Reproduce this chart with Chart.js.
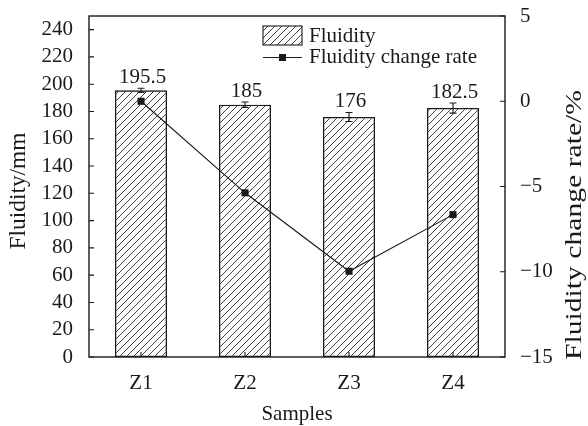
<!DOCTYPE html>
<html><head><meta charset="utf-8">
<script src="https://cdn.jsdelivr.net/npm/chart.js@4/dist/chart.umd.min.js"></script>
<style>html,body{margin:0;padding:0;background:#fff}canvas{display:block}</style>
</head><body>
<canvas id="c" width="588" height="426"></canvas>
<script>
const categories = ['Z1','Z2','Z3','Z4'];
const fluidity = [195.5, 185, 176, 182.5];
const fluidityErr = [1.5, 2, 3.3, 3.7];
const changeRate = [0, -5.37, -9.97, -6.65];
const fluidityTicks = [0,20,40,60,80,100,120,140,160,180,200,220,240];
const rateTicks = [-15,-10,-5,0,5];

const FONT = 'Liberation Serif';
const BLACK = '#1a1a1a';

function makeHatch(){
  const s = 7;
  const c = document.createElement('canvas');
  c.width = s; c.height = s;
  const g = c.getContext('2d');
  g.strokeStyle = '#2a2a2a'; g.lineWidth = 0.9;
  g.beginPath();
  g.moveTo(0, s); g.lineTo(s, 0);
  g.moveTo(-1, 1); g.lineTo(1, -1);
  g.moveTo(s-1, s+1); g.lineTo(s+1, s-1);
  g.stroke();
  return g.createPattern(c, 'repeat');
}
const hatch = makeHatch();

function stretchedText(ctx, text, cx, cy, px, targetLen){
  ctx.save();
  ctx.translate(cx, cy); ctx.rotate(-Math.PI/2);
  ctx.font = px + 'px "' + FONT + '"';
  const w = ctx.measureText(text).width;
  ctx.scale(targetLen / w, 1);
  ctx.textAlign = 'center'; ctx.textBaseline = 'middle';
  ctx.fillText(text, 0, 0);
  ctx.restore();
}

const decor = {
  id: 'decor',
  afterDatasetsDraw(chart){
    const ctx = chart.ctx;
    const y = chart.scales.y;
    ctx.save();
    const meta = chart.getDatasetMeta(1);
    ctx.strokeStyle = BLACK; ctx.lineWidth = 1.1;
    meta.data.forEach((bar, i) => {
      const cx = bar.x;
      const top = y.getPixelForValue(fluidity[i] + fluidityErr[i]);
      const bot = y.getPixelForValue(fluidity[i] - fluidityErr[i]);
      ctx.beginPath();
      ctx.moveTo(cx, top); ctx.lineTo(cx, bot);
      ctx.moveTo(cx-3.5, top); ctx.lineTo(cx+3.5, top);
      ctx.moveTo(cx-3.5, bot); ctx.lineTo(cx+3.5, bot);
      ctx.stroke();
      ctx.fillStyle = BLACK;
      ctx.font = '21px "' + FONT + '"';
      ctx.textAlign = 'center'; ctx.textBaseline = 'alphabetic';
      ctx.fillText(String(fluidity[i]), cx + 1.5, top - 5);
    });
    ctx.restore();
  },
  afterDraw(chart){
    const ctx = chart.ctx, a = chart.chartArea;
    const y = chart.scales.y, y1 = chart.scales.y1, x = chart.scales.x;
    ctx.save();
    ctx.strokeStyle = BLACK; ctx.lineWidth = 1.4;
    ctx.strokeRect(a.left, a.top, a.right - a.left, a.bottom - a.top);
    ctx.lineWidth = 1.1;
    ctx.beginPath();
    fluidityTicks.forEach(v => { const p = y.getPixelForValue(v); ctx.moveTo(a.left, p); ctx.lineTo(a.left + 5, p); });
    rateTicks.forEach(v => { const p = y1.getPixelForValue(v); ctx.moveTo(a.right, p); ctx.lineTo(a.right - 5, p); });
    categories.forEach((c, i) => { const p = x.getPixelForValue(i); ctx.moveTo(p, a.bottom); ctx.lineTo(p, a.bottom - 5); });
    ctx.stroke();

    // legend
    ctx.fillStyle = hatch;
    ctx.fillRect(263, 26, 39, 19);
    ctx.lineWidth = 1.1; ctx.strokeStyle = BLACK;
    ctx.strokeRect(263, 26, 39, 19);
    ctx.beginPath(); ctx.moveTo(263, 57.5); ctx.lineTo(302, 57.5); ctx.stroke();
    ctx.fillStyle = BLACK; ctx.fillRect(279, 54, 7, 7);
    ctx.font = '21px "' + FONT + '"';
    ctx.textAlign = 'left'; ctx.textBaseline = 'middle';
    ctx.fillText('Fluidity', 309, 36);
    ctx.fillText('Fluidity change rate', 309, 57);

    // axis titles
    ctx.textAlign = 'center'; ctx.textBaseline = 'middle';
    ctx.fillText('Samples', (a.left + a.right) / 2, 414);
    stretchedText(ctx, 'Fluidity/mm', 19, 191, 23, 117);
    stretchedText(ctx, 'Fluidity change rate/%', 575, 225, 23, 270);
    ctx.restore();
  }
};

const tickFont = { family: FONT, size: 21 };
const minus = v => String(v).replace('-', '\u2212');
function noPadV(s){ s.paddingTop = 0; s.paddingBottom = 0; }

new Chart(document.getElementById('c'), {
  data: {
    labels: categories,
    datasets: [
      { type: 'line', label: 'Fluidity change rate', data: changeRate, yAxisID: 'y1', order: 0,
        borderColor: BLACK, borderWidth: 1.1, pointStyle: 'rect', pointRadius: 5, pointBackgroundColor: BLACK,
        pointBorderColor: BLACK, pointBorderWidth: 0, tension: 0 },
      { type: 'bar', label: 'Fluidity', data: fluidity, yAxisID: 'y', order: 1,
        backgroundColor: hatch, borderColor: BLACK, borderWidth: 1.3, borderSkipped: false,
        barPercentage: 0.5, categoryPercentage: 1.0 }
    ]
  },
  options: {
    responsive: false, animation: false, devicePixelRatio: 1,
    layout: { padding: { top: 16, left: 0, right: 0, bottom: 0 } },
    plugins: { legend: { display: false }, tooltip: { enabled: false } },
    scales: {
      x: { type: 'category', offset: true,
        grid: { display: false, drawTicks: false }, border: { display: false },
        ticks: { font: tickFont, color: BLACK, padding: 14 },
        afterFit(s){ s.height = 69; s.paddingLeft = 0; s.paddingRight = 0; } },
      y: { type: 'linear', position: 'left', min: 0, max: 250,
        grid: { display: false, drawTicks: false }, border: { display: false },
        ticks: { font: tickFont, color: BLACK, padding: 16, stepSize: 20, autoSkip: false },
        afterBuildTicks(s){ s.ticks = fluidityTicks.map(v => ({ value: v })); },
        afterFit(s){ s.width = 89; noPadV(s); } },
      y1: { type: 'linear', position: 'right', min: -15, max: 5,
        grid: { display: false, drawTicks: false }, border: { display: false },
        ticks: { font: tickFont, color: BLACK, padding: 15, stepSize: 5, autoSkip: false, callback: minus },
        afterBuildTicks(s){ s.ticks = rateTicks.map(v => ({ value: v })); },
        afterFit(s){ s.width = 83; noPadV(s); } }
    }
  },
  plugins: [decor]
});
</script>
</body></html>
